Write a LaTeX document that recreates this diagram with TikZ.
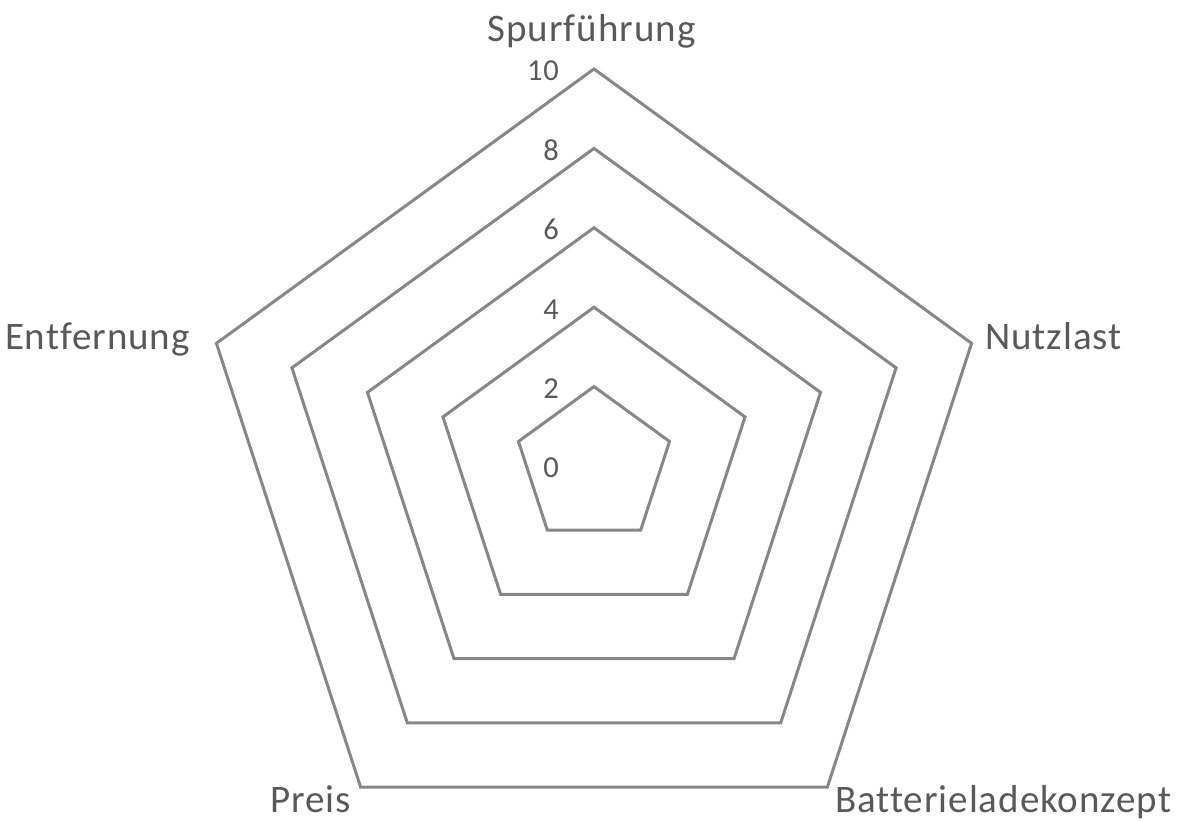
\documentclass[tikz,border=0pt]{standalone}
\usepackage{fontspec}
\setmainfont[Ligatures=NoCommon]{Carlito}
\newfontfamily\axisfont[Ligatures=NoCommon,LetterSpace=2.5]{Carlito}
\definecolor{ringgray}{HTML}{878787}
\definecolor{textgray}{HTML}{595959}
\tikzset{
  ring/.style={draw=ringgray, line width=3pt, line join=miter},
  axislabel/.style={inner sep=0pt, text=textgray, font=\axisfont\fontsize{39}{44}\selectfont},
  ticklabel/.style={inner sep=0pt, text=textgray, font=\axisfont\fontsize{30.5}{34}\selectfont, anchor=base east},
}
\begin{document}
\begin{tikzpicture}[x=1pt,y=1pt]
\useasboundingbox (-594,-355) rectangle (594,466);
\foreach \v in {2,4,6,8,10}{
  \pgfmathsetmacro{\r}{39.7*\v}
  \draw[ring] (90:\r) -- (162:\r) -- (234:\r) -- (306:\r) -- (18:\r) -- cycle;
}
\foreach \v in {0,2,4,6,8,10}{
  \pgfmathsetmacro{\yy}{39.7*\v-12}
  \node[ticklabel] (t\v) at (-35,\yy) {\v};
}
\node[axislabel, anchor=base] (spur) at (-2.5,424) {Spurführung};
\node[axislabel, anchor=base east] (entf) at (-404,116) {Entfernung};
\node[axislabel, anchor=base west] (nutz) at (391,116) {Nutzlast};
\node[axislabel, anchor=base west] (preis) at (-324,-346) {Preis};
\node[axislabel, anchor=base west] (batt) at (241,-346) {Batterieladekonzept};
\end{tikzpicture}
\end{document}
